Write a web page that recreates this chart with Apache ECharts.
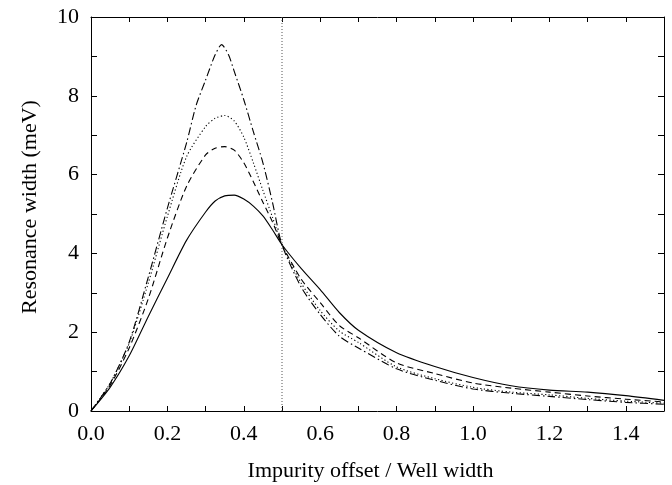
<!DOCTYPE html>
<html lang="en">
<head>
    <meta charset="UTF-8">
    <title>Resonance width</title>
    <script src="https://cdn.jsdelivr.net/npm/echarts@6/dist/echarts.min.js"></script>
    <style>
        html, body { margin: 0; padding: 0; background: #fff; }
        #chart1 { width: 672px; height: 485px; }
    </style>
</head>
<body>
<div id="chart1"></div>
<script>
    // curve values, x = impurity offset / well width
    var xSolid = [0, 0.05, 0.1, 0.15, 0.2, 0.25, 0.3, 0.325, 0.35, 0.375, 0.4, 0.425, 0.45, 0.475, 0.5, 0.55, 0.6, 0.65, 0.7, 0.8, 0.9, 1.0, 1.1, 1.2, 1.3, 1.4, 1.5];
    var ySolid = [0, 0.6, 1.4, 2.4, 3.37, 4.33, 5.05, 5.33, 5.46, 5.48, 5.38, 5.2, 4.95, 4.6, 4.22, 3.62, 3.08, 2.5, 2.05, 1.48, 1.13, 0.85, 0.64, 0.53, 0.48, 0.39, 0.27];

    var xDashed = [0, 0.05, 0.1, 0.15, 0.2, 0.25, 0.3, 0.325, 0.35, 0.375, 0.4, 0.425, 0.45, 0.475, 0.5, 0.55, 0.6, 0.65, 0.7, 0.8, 0.9, 1.0, 1.1, 1.2, 1.3, 1.4, 1.5];
    var yDashed = [0, 0.65, 1.6, 2.85, 4.39, 5.7, 6.5, 6.67, 6.71, 6.62, 6.3, 5.82, 5.3, 4.8, 4.22, 3.35, 2.75, 2.17, 1.86, 1.22, 0.95, 0.71, 0.58, 0.48, 0.38, 0.3, 0.23];

    var xDotted = [0, 0.05, 0.1, 0.15, 0.2, 0.25, 0.3, 0.325, 0.35, 0.375, 0.4, 0.425, 0.45, 0.475, 0.5, 0.55, 0.6, 0.65, 0.7, 0.8, 0.9, 1.0, 1.1, 1.2, 1.3, 1.4, 1.5];
    var yDotted = [0, 0.7, 1.72, 3.25, 4.94, 6.45, 7.22, 7.43, 7.5, 7.36, 6.95, 6.3, 5.6, 4.92, 4.22, 3.25, 2.55, 2.03, 1.74, 1.12, 0.82, 0.6, 0.48, 0.41, 0.32, 0.25, 0.2];

    var xDashDot = [0, 0.05, 0.1, 0.15, 0.2, 0.25, 0.275, 0.3, 0.325, 0.342, 0.36, 0.375, 0.4, 0.425, 0.45, 0.475, 0.5, 0.55, 0.6, 0.65, 0.7, 0.8, 0.9, 1.0, 1.1, 1.2, 1.3, 1.4, 1.5];
    var yDashDot = [0, 0.7, 1.75, 3.4, 5.15, 6.8, 7.75, 8.4, 9.04, 9.3, 9.04, 8.62, 7.9, 7.09, 6.3, 5.3, 4.22, 3.15, 2.45, 1.9, 1.6, 1.07, 0.78, 0.56, 0.45, 0.37, 0.29, 0.22, 0.17];

    var markerX = [0.5, 0.5];
    var markerY = [0, 10];

    function pairs(xs, ys) {
        var out = [];
        for (var i = 0; i < xs.length; i++) {
            out.push([xs[i], ys[i]]);
        }
        return out;
    }

    function curve(xs, ys, type) {
        return {
            type: 'line',
            data: pairs(xs, ys),
            showSymbol: false,
            smooth: 0.25,
            silent: true,
            lineStyle: { color: '#000', width: 1.1, type: type }
        };
    }

    var font = 'Liberation Serif';
    var axisLine = { show: true, onZero: false, lineStyle: { color: '#000', width: 1 } };

    var option = {
        animation: false,
        backgroundColor: '#fff',
        grid: { left: 91, right: 8, top: 17, bottom: 74, outerBoundsMode: 'none' },
        xAxis: [{
            type: 'value', min: 0, max: 1.5, interval: 0.1,
            name: 'Impurity offset / Well width',
            nameLocation: 'middle', nameGap: 49,
            nameTextStyle: { fontFamily: font, fontSize: 22, color: '#000', padding: [0, 14, 0, 0] },
            axisLine: axisLine,
            axisTick: { inside: true, length: 5, lineStyle: { color: '#000' } },
            axisLabel: {
                fontFamily: font, fontSize: 22, color: '#000', margin: 12,
                formatter: function (v) {
                    return Math.round(v * 10) % 2 === 0 ? v.toFixed(1) : '';
                }
            },
            splitLine: { show: false }
        }, {
            type: 'value', min: 0, max: 1.5, interval: 0.1, position: 'top',
            axisLine: axisLine,
            axisTick: { inside: true, length: 5, lineStyle: { color: '#000' } },
            axisLabel: { show: false },
            splitLine: { show: false }
        }],
        yAxis: [{
            type: 'value', min: 0, max: 10, interval: 1,
            name: 'Resonance width (meV)',
            nameLocation: 'middle', nameGap: 50,
            nameTextStyle: { fontFamily: font, fontSize: 22, color: '#000', padding: [0, 0, 0, 14] },
            axisLine: axisLine,
            axisTick: { inside: true, length: 6, lineStyle: { color: '#000' } },
            axisLabel: {
                fontFamily: font, fontSize: 22, color: '#000', margin: 12,
                formatter: function (v) {
                    return v % 2 === 0 ? String(v) : '';
                }
            },
            splitLine: { show: false }
        }, {
            type: 'value', min: 0, max: 10, interval: 1, position: 'right',
            axisLine: axisLine,
            axisTick: { inside: true, length: 6, lineStyle: { color: '#000' } },
            axisLabel: { show: false },
            splitLine: { show: false }
        }],
        series: [
            curve(xSolid, ySolid, 'solid'),
            curve(xDashed, yDashed, [6, 4]),
            curve(xDotted, yDotted, [1.2, 2.4]),
            curve(xDashDot, yDashDot, [8, 3, 1.5, 3]),
            {
                type: 'line',
                data: pairs(markerX, markerY),
                showSymbol: false,
                silent: true,
                lineStyle: { color: '#555', width: 1, type: [1, 2] }
            }
        ]
    };

    var ctx1 = echarts.init(document.getElementById('chart1'));
    ctx1.setOption(option);
</script>
</body>
</html>
